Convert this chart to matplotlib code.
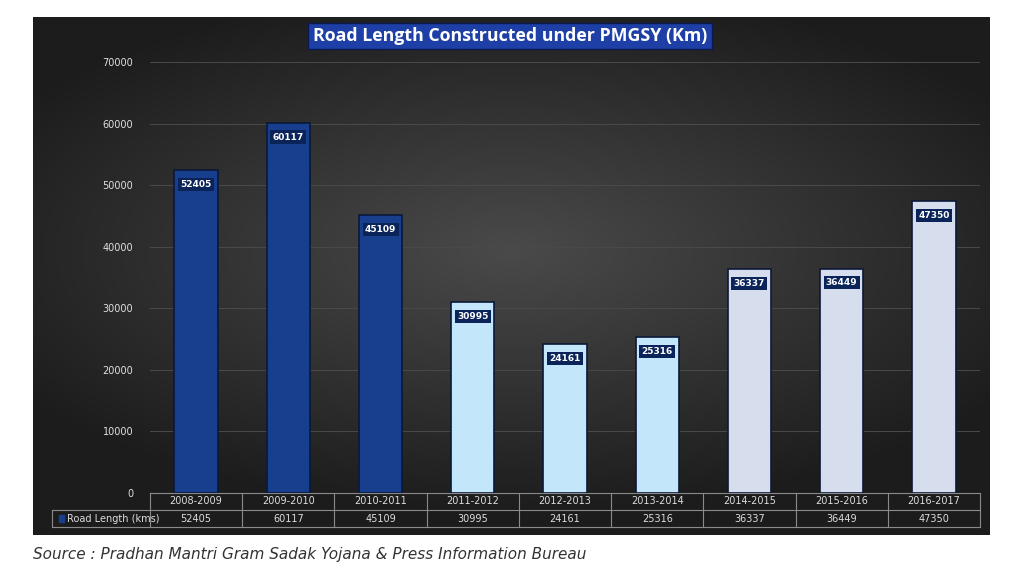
import numpy as np
import matplotlib.pyplot as plt
from matplotlib.patches import Rectangle

years = ["2008-2009", "2009-2010", "2010-2011", "2011-2012", "2012-2013",
         "2013-2014", "2014-2015", "2015-2016", "2016-2017"]
road_length = [52405, 60117, 45109, 30995, 24161, 25316, 36337, 36449, 47350]
bar_colors = ["#173f8e"] * 3 + ["#c3e6fa"] * 3 + ["#d6ddec"] * 3
yticks = [0, 10000, 20000, 30000, 40000, 50000, 60000, 70000]

W, H = 1024, 585
fig = plt.figure(figsize=(W / 100, H / 100), dpi=100)
fig.patch.set_facecolor("white")

# dark panel with radial gradient
bg = fig.add_axes([33 / W, 1 - 535 / H, (990 - 33) / W, (535 - 17) / H])
gx, gy = np.meshgrid(np.linspace(-1, 1, 400), np.linspace(-1, 1, 250))
r = np.sqrt((gx * 0.9) ** 2 + ((gy + 0.1) * 1.1) ** 2)
shade = np.clip(0.29 - 0.16 * r, 0.11, 0.29)
bg.imshow(np.dstack([shade, shade, shade]), aspect="auto", extent=[0, 1, 0, 1])
bg.set_axis_off()

ax = fig.add_axes([150 / W, 1 - 493 / H, 830 / W, 431 / H])
ax.set_facecolor("none")
x = np.arange(len(years))
ax.bar(x, road_length, width=0.47, color=bar_colors, edgecolor="#0b1838",
       linewidth=1.2, zorder=3)
ax.set_xlim(-0.5, len(years) - 0.5)
ax.set_ylim(0, 70000)
ax.set_yticks(yticks)
ax.set_yticklabels([str(v) for v in yticks], color="#e0e0e0", fontsize=7)
ax.tick_params(axis="y", length=0, pad=12)
ax.set_xticks([])
ax.grid(axis="y", color="#4a4a4a", linewidth=0.7, zorder=0)
for s in ax.spines.values():
    s.set_visible(False)

# value labels inside bars
for xi, v in zip(x, road_length):
    ax.text(xi, v - 2300, str(v), ha="center", va="center", color="white",
            fontsize=6.5, fontweight="bold", zorder=4,
            bbox=dict(boxstyle="square,pad=0.25", facecolor="#0a2459",
                      edgecolor="none"))

# data table under the axis
row_h = 17 / 431
label_left = (52 - 150) / 830
lc = "#8a8a8a"
ax.plot([0, 1], [0, 0], transform=ax.transAxes, color=lc, lw=0.8, clip_on=False)
ax.plot([label_left, 1], [-row_h, -row_h], transform=ax.transAxes, color=lc,
        lw=0.8, clip_on=False)
ax.plot([label_left, 1], [-2 * row_h, -2 * row_h], transform=ax.transAxes,
        color=lc, lw=0.8, clip_on=False)
ax.plot([label_left, label_left], [-row_h, -2 * row_h], transform=ax.transAxes,
        color=lc, lw=0.8, clip_on=False)
for i in range(len(years) + 1):
    xa = i / len(years)
    ax.plot([xa, xa], [0, -2 * row_h], transform=ax.transAxes, color=lc,
            lw=0.8, clip_on=False)
for i, (yr, v) in enumerate(zip(years, road_length)):
    xa = (i + 0.5) / len(years)
    ax.text(xa, -0.5 * row_h, yr, transform=ax.transAxes, ha="center",
            va="center", color="#dddddd", fontsize=7)
    ax.text(xa, -1.5 * row_h, str(v), transform=ax.transAxes, ha="center",
            va="center", color="#dddddd", fontsize=7)
ax.add_patch(Rectangle((label_left + 0.008, -1.5 * row_h - 0.008), 0.006, 0.016,
                       transform=ax.transAxes, color="#173f8e", clip_on=False))
ax.text(label_left + 0.018, -1.5 * row_h, "Road Length (kms)",
        transform=ax.transAxes, ha="left", va="center", color="#dddddd",
        fontsize=7)

# title
fig.text(510 / W, 1 - 36 / H, "Road Length Constructed under PMGSY (Km)",
         ha="center", va="center", color="white", fontsize=12.8,
         fontweight="bold", family="Open Sans",
         bbox=dict(boxstyle="square,pad=0.25", facecolor="#1d3fa6",
                   edgecolor="#0a1a50"))

fig.text(33 / W, 1 - 555 / H,
         "Source : Pradhan Mantri Gram Sadak Yojana & Press Information Bureau",
         ha="left", va="center", color="#333333", fontsize=11, style="italic")

fig.savefig("out.png", dpi=100)
